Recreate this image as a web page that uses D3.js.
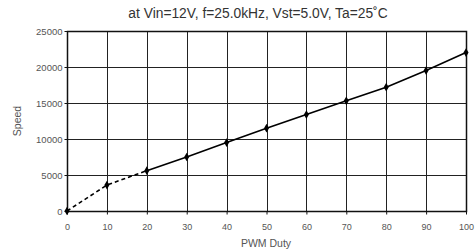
<!DOCTYPE html>
<html><head><meta charset="utf-8">
<script src="https://cdn.jsdelivr.net/npm/d3@7"></script>
<style>body{margin:0;background:#fff}svg{display:block}text{font-family:"Liberation Sans",Arial,sans-serif}</style>
</head><body>
<script>
const duty = [0,10,20,30,40,50,60,70,80,90,100];
const speed = [0,3600,5600,7500,9500,11500,13400,15300,17200,19500,22000];
const xTicks = [0,10,20,30,40,50,60,70,80,90,100];
const yTicks = [0,5000,10000,15000,20000,25000];
const title = "at Vin=12V, f=25.0kHz, Vst=5.0V, Ta=25˚C";

const W=476,H=250, L=67,R=466,T=31,B=211;
const svg=d3.select("body").append("svg").attr("width",W).attr("height",H);
const x=d3.scaleLinear().domain([0,100]).range([L,R]);
const y=d3.scaleLinear().domain([0,25000]).range([B,T]);

// grid
svg.append("g").selectAll("line").data(xTicks).join("line")
  .attr("x1",d=>Math.round(x(d))+0.5).attr("x2",d=>Math.round(x(d))+0.5)
  .attr("y1",T).attr("y2",B).attr("stroke","#222").attr("stroke-width",1);
svg.append("g").selectAll("line").data(yTicks).join("line")
  .attr("y1",d=>Math.round(y(d))+0.5).attr("y2",d=>Math.round(y(d))+0.5)
  .attr("x1",L).attr("x2",R).attr("stroke","#222").attr("stroke-width",1);
// frame
svg.append("rect").attr("x",L+0.5).attr("y",T+0.5).attr("width",R-L).attr("height",B-T)
  .attr("fill","none").attr("stroke","#111").attr("stroke-width",1.5);

// axes
const xa=svg.append("g").attr("transform",`translate(0,${B+0.5})`)
  .call(d3.axisBottom(x).tickValues(xTicks).tickSize(3).tickPadding(9).tickFormat(d3.format("d")));
const ya=svg.append("g").attr("transform",`translate(${L+0.5},0)`)
  .call(d3.axisLeft(y).tickValues(yTicks).tickSize(3).tickPadding(2).tickFormat(d3.format("d")));
[xa,ya].forEach(a=>{a.select(".domain").remove();a.selectAll("line").attr("stroke","#111");
  a.selectAll("text").attr("fill","#555").style("font-size","9px");});
ya.selectAll("text").style("font-size","9.5px");

// line
const pts=duty.map((d,i)=>[d,speed[i]]);
const line=d3.line().x(d=>x(d[0])).y(d=>y(d[1]));
svg.append("path").datum(pts.slice(0,3)).attr("d",line).attr("fill","none")
  .attr("stroke","#000").attr("stroke-width",1.6).attr("stroke-dasharray","4,3");
svg.append("path").datum(pts.slice(2)).attr("d",line).attr("fill","none")
  .attr("stroke","#000").attr("stroke-width",1.6);
svg.append("g").selectAll("path").data(pts).join("path")
  .attr("transform",d=>`translate(${x(d[0])},${y(d[1])})`)
  .attr("d",d3.symbol(d3.symbolDiamond,22)).attr("fill","#000");

// texts
svg.append("text").attr("x",258).attr("y",18).attr("text-anchor","middle")
  .attr("fill","#333").style("font-size","13.8px").text(title);
svg.append("text").attr("x",266).attr("y",247).attr("text-anchor","middle")
  .attr("fill","#555").style("font-size","10.5px").text("PWM Duty");
svg.append("text").attr("transform",`translate(21,${(T+B)/2}) rotate(-90)`).attr("text-anchor","middle")
  .attr("fill","#555").style("font-size","10.5px").text("Speed");
</script>
</body></html>
